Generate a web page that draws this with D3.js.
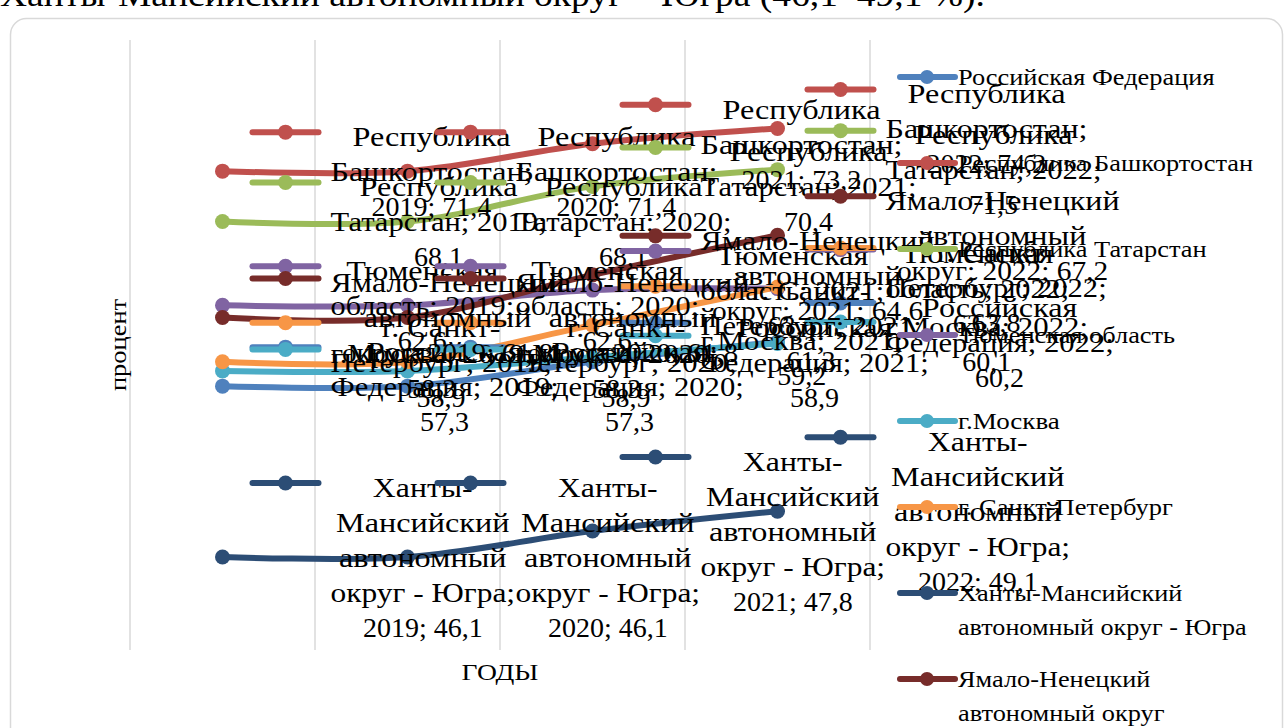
<!DOCTYPE html>
<html>
<head>
<meta charset="utf-8">
<script src="https://cdn.jsdelivr.net/npm/d3@7"></script>
<style>
  body { margin: 0; background: #fff; }
  svg { display: block; }
  text { font-family: "Liberation Serif", "Times New Roman", serif; fill: #000; white-space: pre; }
</style>
</head>
<body>
<svg id="chart" width="1287" height="728"></svg>
<script>
// data (percent)
const years = ["2019", "2020", "2021", "2022"];
const russia = [57.3, 57.3, 58.9, 60.2];
const bashkortostan = [71.4, 71.4, 73.2, 74.2];
const tatarstan = [68.1, 68.1, 70.4, 71.5];
const tyumen = [62.6, 62.6, 63.6, 63.7];
const moscow = [58.3, 58.3, 59.2, 60.1];
const spb = [58.9, 58.9, 61.3, 63.8];
const khmao = [46.1, 46.1, 47.8, 49.1];
const yamal = [61.8, 61.8, 64.6, 67.2];
const yDomain = [40, 80];

const series = [
  {name: "Российская Федерация", values: russia, color: "#4F81BD"},
  {name: "Республика Башкортостан", values: bashkortostan, color: "#C0504D"},
  {name: "Республика Татарстан", values: tatarstan, color: "#9BBB59"},
  {name: "Тюменская область", values: tyumen, color: "#8064A2"},
  {name: "г.Москва", values: moscow, color: "#4BACC6"},
  {name: "г. Санкт-Петербург", values: spb, color: "#F79646"},
  {name: "Ханты-Мансийский автономный округ - Югра", values: khmao, color: "#2C4D75"},
  {name: "Ямало-Ненецкий автономный округ", values: yamal, color: "#772C2A"}
];

const svg = d3.select("#chart");

// the source font draws cyrillic wider than Liberation Serif does
const CYR = 1.15;
const meas = svg.append("text").attr("visibility", "hidden");
function rawWidth(str, size) {
  meas.attr("font-size", size).text(str);
  return meas.node().getComputedTextLength();
}
function textWidth(str, size) {
  const runs = str.match(/[\u0400-\u04FF]+|[^\u0400-\u04FF]+/g) || [];
  return d3.sum(runs, r => rawWidth(r, size) * (/[\u0400-\u04FF]/.test(r) ? CYR : 1));
}
function label(sel, str, size) {
  return sel.attr("font-size", size)
    .attr("textLength", textWidth(str, size))
    .attr("lengthAdjust", "spacingAndGlyphs")
    .text(str);
}

function wrap(str, size, maxW) {
  const tokens = [];
  str.split(" ").forEach(w => {
    w.split(/(?<=-)(?=.)/).forEach((p, j) => tokens.push({t: p, glue: j > 0}));
  });
  const lines = [];
  let cur = "";
  tokens.forEach(tk => {
    const cand = cur === "" ? tk.t : (tk.glue ? cur + tk.t : cur + " " + tk.t);
    if (cur !== "" && textWidth(cand, size) > maxW) {
      lines.push(cur);
      cur = tk.t;
    } else {
      cur = cand;
    }
  });
  if (cur !== "") lines.push(cur);
  return lines.map(l => ({t: l, w: textWidth(l, size)}));
}

// text above the chart, cut by the page top
label(svg.append("text").attr("x", 0).attr("y", 6),
  "Ханты-Мансийский автономный округ – Югра (46,1–49,1 %).", 34);

// chart frame
svg.append("rect")
  .attr("x", 10.5)
  .attr("y", 18.5)
  .attr("width", 1272)
  .attr("height", 760)
  .attr("rx", 16)
  .attr("fill", "#fff")
  .attr("stroke", "#d9d9d9")
  .attr("stroke-width", 1.5);

const x = d3.scalePoint().domain(years).range([130, 870]).padding(0.5);
const band = d3.scaleBand().domain(years).range([130, 870]);
const y = d3.scaleLinear().domain(yDomain).range([650, 40]);

// vertical gridlines on category borders
const grid = years.map(d => band(d)).concat([870]);
svg.append("g").selectAll("line")
  .data(grid)
  .join("line")
  .attr("x1", d => d).attr("x2", d => d)
  .attr("y1", y(yDomain[1])).attr("y2", y(yDomain[0]))
  .attr("stroke", "#d9d9d9")
  .attr("stroke-width", 1.5);

// axis titles
label(svg.append("text")
  .attr("transform", "translate(118,345) rotate(-90)")
  .attr("text-anchor", "middle")
  .attr("dy", "0.35em"), "процент", 23);
label(svg.append("text")
  .attr("x", 500)
  .attr("y", 672)
  .attr("text-anchor", "middle")
  .attr("dy", "0.35em"), "ГОДЫ", 24);

const line = d3.line()
  .x((d, i) => x(years[i]))
  .y(d => y(d))
  .curve(d3.curveCatmullRom.alpha(0.5));

const plot = svg.append("g");
series.forEach(s => {
  plot.append("path")
    .attr("d", line(s.values))
    .attr("fill", "none")
    .attr("stroke", s.color)
    .attr("stroke-width", 6)
    .attr("stroke-linecap", "round");
  plot.append("g").selectAll("circle")
    .data(s.values)
    .join("circle")
    .attr("cx", (d, i) => x(years[i]))
    .attr("cy", d => y(d))
    .attr("r", 7.5)
    .attr("fill", s.color);
});

const fmt = v => v.toFixed(1).replace(".", ",");

// data labels with legend keys
const labelSize = 28, labelLH = 35, labelW = 235;
const labels = svg.append("g");
series.forEach(s => {
  s.values.forEach((v, i) => {
    const px = x(years[i]), py = y(v);
    const lines = wrap(s.name + "; " + years[i] + "; " + fmt(v), labelSize, labelW);
    const maxW = d3.max(lines, l => l.w);
    const top = py - (lines.length - 1) / 2 * labelLH;
    const g = labels.append("g");
    g.append("line")
      .attr("x1", px + 30).attr("x2", px + 96)
      .attr("y1", top - 4).attr("y2", top - 4)
      .attr("stroke", s.color)
      .attr("stroke-width", 6)
      .attr("stroke-linecap", "round");
    g.append("circle")
      .attr("cx", px + 63)
      .attr("cy", top - 4)
      .attr("r", 7.5)
      .attr("fill", s.color);
    lines.forEach((l, k) => {
      label(g.append("text")
        .attr("x", px + 108 + maxW / 2)
        .attr("y", top + k * labelLH)
        .attr("dy", "0.35em")
        .attr("text-anchor", "middle"), l.t, labelSize);
    });
  });
});

// legend
const legend = svg.append("g");
series.forEach((s, i) => {
  const ly = 77 + i * 86;
  const lines = wrap(s.name, 23, 300);
  legend.append("line")
    .attr("x1", 900).attr("x2", 955)
    .attr("y1", ly).attr("y2", ly)
    .attr("stroke", s.color)
    .attr("stroke-width", 6)
    .attr("stroke-linecap", "round");
  legend.append("circle")
    .attr("cx", 927)
    .attr("cy", ly)
    .attr("r", 7)
    .attr("fill", s.color);
  lines.forEach((l, k) => {
    label(legend.append("text")
      .attr("x", 958)
      .attr("y", ly + k * 34)
      .attr("dy", "0.35em"), l.t, 23);
  });
});
meas.remove();
</script>
</body>
</html>
